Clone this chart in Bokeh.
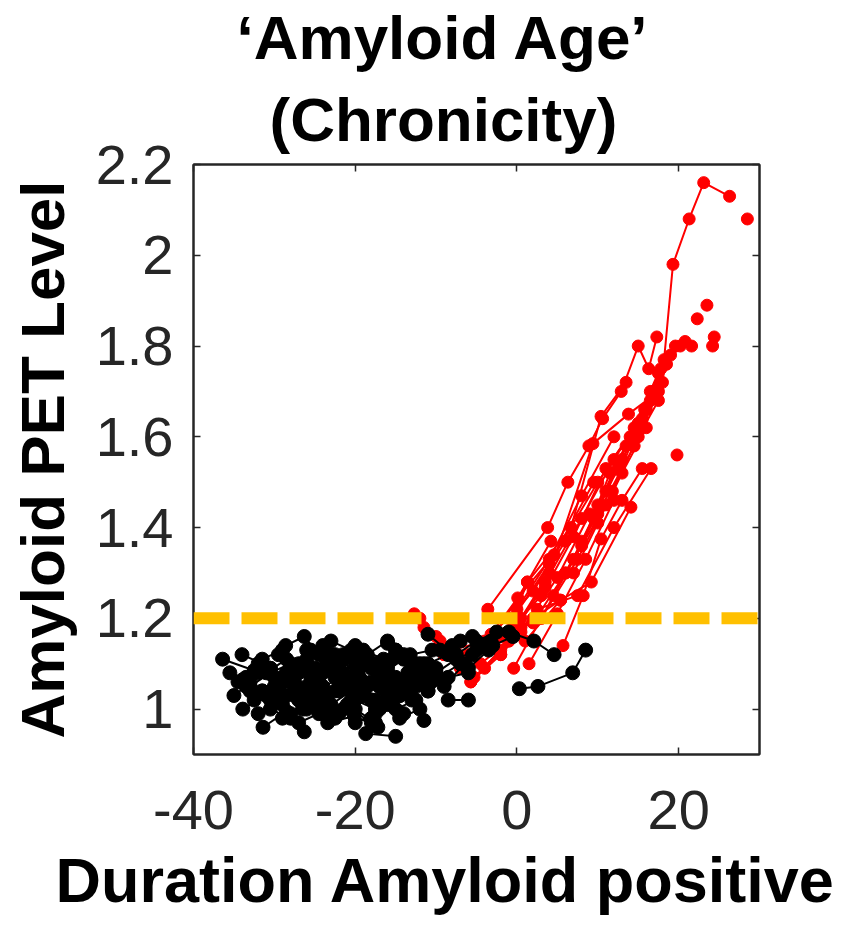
from bokeh.plotting import figure
from bokeh.models import Range1d, LinearAxis, Span, FixedTicker, Title
from bokeh.embed import file_html
from bokeh.resources import INLINE

# ---------------- data ----------------
title_lines = ["\u2018Amyloid Age\u2019", "(Chronicity)"]
x_label = "Duration Amyloid positive"
y_label = "Amyloid PET Level"

x_ticks = [-40, -20, 0, 20]
x_tick_labels = ["-40", "-20", "0", "20"]
y_ticks = [1.0, 1.2, 1.4, 1.6, 1.8, 2.0, 2.2]
y_tick_labels = ["1", "1.2", "1.4", "1.6", "1.8", "2", "2.2"]
threshold = 1.2

# amyloid-positive trajectories (red)
red_x = [
    [-2.0, 4.0, 10.0, 14.5, 18.2, 19.3, 21.3, 23.1, 26.3],
    [-3.6, 3.8, 6.3, 8.9, 10.6, 12.9, 15.0, 16.3, 17.3],
    [-0.4, 3.0, 7.5, 11.8, 15.8, 17.8, 19.6, 20.8, 21.6],
    [5.7, 8.2, 10.4, 13.0, 15.5],
    [-5.7, -1.0, 3.5, 8.0, 12.0, 16.0],
    [-12.7, -9.0, -5.7, -2.0, 2.0, 5.4],
    [-11.5, -8.0, -4.5, -1.0],
    [-9.0, -5.3, -2.0, 1.3, 4.2],
    [-3.2, 0.1, 4.6, 9.5],
    [1.0, 5.4, 9.2, 14.1],
    [-6.5, -2.5, 1.3, 6.7, 10.4, 13.5],
    [-2.0, 2.5, 7.5, 12.0, 16.6],
    [0.5, 4.0, 9.4, 13.8, 17.5],
    [2.0, 6.0, 10.0, 14.5, 18.0],
    [3.0, 7.0, 11.0, 15.0, 17.5],
    [-8.0, -4.0, 0.0, 4.0, 8.0, 12.0],
    [-1.0, 3.0, 7.0, 11.0, 15.0],
    [4.5, 8.0, 11.5, 15.5],
    [-5.0, -1.0, 2.0, 6.0],
    [6.0, 9.5, 13.0, 16.5, 18.5],
    [-10.0, -6.0, -3.0, 0.5],
    [8.0, 11.0, 14.0, 17.0],
    [16.8, 18.4, 20.2],
    [24.2, 24.4],
    [-7.0, -3.5, 0.0, 3.5],
    [-4.0, 0.5, 5.0, 9.0],
    [1.5, 5.0, 8.5, 12.0],
    [7.0, 10.0, 13.0, 16.0],
    [10.0, 13.5, 16.5, 19.0],
    [-12.0, -9.5, -7.0],
    [12.5, 15.0, 17.5],
]
red_y = [
    [1.16, 1.32, 1.50, 1.62, 1.77, 1.98, 2.08, 2.16, 2.13],
    [1.22, 1.40, 1.50, 1.58, 1.64, 1.70, 1.80, 1.75, 1.82],
    [1.09, 1.20, 1.33, 1.48, 1.66, 1.75, 1.80, 1.81, 1.80],
    [1.14, 1.25, 1.375, 1.46, 1.53],
    [1.06, 1.15, 1.28, 1.42, 1.55, 1.66],
    [1.21, 1.12, 1.06, 1.12, 1.20, 1.24],
    [1.18, 1.13, 1.10, 1.15],
    [1.12, 1.07, 1.13, 1.28, 1.37],
    [1.165, 1.245, 1.34, 1.50],
    [1.15, 1.24, 1.28, 1.445],
    [1.10, 1.17, 1.28, 1.40, 1.645, 1.72],
    [1.12, 1.22, 1.25, 1.40, 1.53],
    [1.20, 1.30, 1.585, 1.65, 1.70],
    [1.19, 1.30, 1.43, 1.58, 1.72],
    [1.20, 1.33, 1.45, 1.60, 1.68],
    [1.13, 1.15, 1.22, 1.33, 1.47, 1.60],
    [1.17, 1.25, 1.38, 1.53, 1.63],
    [1.25, 1.36, 1.52, 1.64],
    [1.14, 1.20, 1.26, 1.37],
    [1.30, 1.42, 1.55, 1.68, 1.76],
    [1.16, 1.12, 1.14, 1.18],
    [1.37, 1.48, 1.60, 1.70],
    [1.70, 1.76, 1.80],
    [1.80, 1.82],
    [1.10, 1.13, 1.19, 1.27],
    [1.09, 1.17, 1.29, 1.43],
    [1.10, 1.21, 1.33, 1.46],
    [1.30, 1.41, 1.52, 1.62],
    [1.45, 1.58, 1.70, 1.78],
    [1.20, 1.15, 1.09],
    [1.53, 1.62, 1.74],
]
red_single_x = [28.5, 23.5, 22.3, 19.8]
red_single_y = [2.08, 1.89, 1.86, 1.56]

# amyloid-negative trajectories (black)
black_x = [
    [-36.4, -32.5], [-33.9, -31.0], [-31.4, -28.5], [-28.6, -26.3, -24.5],
    [-26.3], [-18.7, -15.0], [-13.0, -11.5], [-8.5, -6.0],
    [-16.0, -13.2, -10.5], [-11.0, -8.0], [-34.5, -32.0, -29.5], [-33.0, -30.5],
    [-32.0, -29.0, -26.0], [-30.0, -27.5, -25.0], [-29.5, -27.0], [-28.0, -25.5, -23.0],
    [-27.0, -24.0, -21.5], [-26.0, -23.5], [-25.5, -23.0, -20.5], [-24.5, -22.0, -19.5],
    [-23.5, -21.0], [-23.0, -20.0, -17.5], [-22.0, -19.5, -17.0], [-21.5, -19.0],
    [-20.5, -18.0, -15.5], [-20.0, -17.5], [-19.0, -16.5, -14.0], [-18.0, -15.5, -13.0],
    [-17.0, -14.5], [-16.0, -13.5, -11.0], [-15.0, -12.5], [-14.0, -11.5, -9.0],
    [-35.0, -33.5], [-31.0, -28.5, -26.5], [-29.0, -26.5], [-27.5, -25.0, -22.5],
    [-26.5, -24.0], [-25.0, -22.5, -20.0], [-24.0, -21.5, -19.0], [-22.5, -20.0],
    [-21.0, -18.5, -16.0], [-19.5, -17.0, -14.5], [-18.5, -16.0], [-17.5, -15.0, -12.5],
    [-33.5, -31.5, -29.0], [-30.5, -28.0], [-28.5, -26.0, -23.5], [-26.5, -24.0, -21.5],
    [-24.0, -21.5], [-22.0, -19.5, -17.0], [-20.5, -18.0], [-19.0, -16.5, -14.0],
    [-12.0, -9.5, -7.0], [-10.0, -7.5, -5.0], [-9.0, -6.5, -4.0], [-7.5, -5.0, -2.5],
    [-6.0, -3.5], [-14.5, -12.0], [-27.0, -24.5], [0.3, 2.6, 6.9, 8.5],
    [-1.0, 2.1, 4.6], [-10.6, -7.0, -3.2], [-33.9, -31.5], [-23.4, -20.1, -17.2],
    [-35.5, -33.0, -30.5], [-34.0, -31.5], [-32.5, -30.0, -27.5], [-31.5, -29.0],
    [-30.0, -27.5, -25.0], [-29.0, -26.5, -24.0], [-28.0, -25.5], [-27.0, -24.5, -22.0],
    [-26.0, -23.5, -21.0], [-25.0, -22.5], [-24.0, -21.5, -19.0], [-23.0, -20.5, -18.0],
    [-22.0, -19.5], [-21.0, -18.5, -16.0], [-20.0, -17.5, -15.0], [-19.0, -16.5],
    [-18.0, -15.5, -13.0], [-17.0, -14.5, -12.0], [-16.0, -13.5], [-15.0, -12.5, -10.0],
    [-32.0, -29.5], [-30.5, -28.0, -25.5], [-28.5, -26.0], [-25.5, -23.0, -20.5],
    [-22.5, -20.0, -17.5], [-20.0, -17.5, -15.0], [-18.0, -15.5], [-33.0, -30.5, -28.0],
    [-29.5, -27.0, -24.5], [-24.5, -22.0, -19.5], [-21.5, -19.0, -16.5], [-16.5, -14.0, -11.5],
    [-13.5, -11.0, -8.5], [-11.0, -8.5, -6.0], [-5.5, -3.0, -0.5], [-8.0, -5.5],
]
black_y = [
    [1.11, 1.085], [1.00, 1.03], [0.96, 0.995], [1.14, 1.16, 1.12],
    [0.95], [0.946, 0.94], [1.02, 0.975], [1.02, 1.02],
    [1.145, 1.12, 1.13], [1.165, 1.12], [1.06, 1.08, 1.05], [1.04, 1.02],
    [1.10, 1.07, 1.09], [1.03, 1.06, 1.04], [1.12, 1.10], [0.99, 1.02, 1.00],
    [1.08, 1.05, 1.07], [1.13, 1.11], [1.01, 0.98, 1.02], [1.06, 1.09, 1.07],
    [1.03, 1.05], [1.12, 1.14, 1.10], [0.99, 1.03, 1.01], [1.08, 1.06],
    [1.04, 1.02, 1.05], [0.97, 0.99], [1.10, 1.08, 1.11], [1.06, 1.04, 1.07],
    [1.00, 1.03], [1.09, 1.06, 1.04], [1.13, 1.10], [1.05, 1.08, 1.06],
    [1.03, 1.05], [1.08, 1.11, 1.09], [1.01, 1.04], [1.05, 1.07, 1.10],
    [1.00, 1.03], [1.09, 1.12, 1.08], [1.02, 1.00, 1.04], [1.07, 1.10],
    [1.01, 1.05, 1.03], [1.06, 1.08, 1.05], [1.12, 1.15], [1.02, 1.00, 1.02],
    [1.07, 1.04, 1.06], [1.09, 1.06], [1.03, 1.00, 1.02], [1.10, 1.08, 1.11],
    [1.14, 1.12], [1.04, 1.07, 1.05], [1.00, 0.97], [1.03, 1.01, 0.99],
    [1.10, 1.13, 1.15], [1.08, 1.11, 1.13], [1.05, 1.10, 1.14], [1.12, 1.15, 1.17],
    [1.09, 1.13], [0.98, 1.00], [0.97, 0.99], [1.045, 1.05, 1.08, 1.13],
    [1.17, 1.15, 1.12], [1.06, 1.10, 1.15], [1.065, 1.04], [0.97, 0.985, 0.96],
    [1.08, 1.06, 1.09], [1.12, 1.10], [1.02, 1.05, 1.03], [1.11, 1.13],
    [1.07, 1.09, 1.06], [0.98, 1.01, 0.99], [1.10, 1.07], [1.04, 1.02, 1.05],
    [1.11, 1.09, 1.12], [1.06, 1.04], [1.09, 1.07, 1.10], [1.01, 1.04, 1.02],
    [1.11, 1.09], [1.07, 1.10, 1.08], [1.02, 1.00, 1.03], [1.13, 1.11],
    [1.09, 1.11, 1.09], [1.05, 1.03, 1.06], [1.01, 1.04], [1.07, 1.05, 1.09],
    [0.99, 1.02], [1.00, 0.98, 1.01], [1.08, 1.05], [1.13, 1.15, 1.13],
    [0.98, 1.00, 0.97], [1.12, 1.10, 1.13], [0.98, 1.01], [1.05, 1.08, 1.10],
    [1.04, 1.02, 1.06], [1.03, 1.06, 1.04], [1.05, 1.03, 1.06], [1.10, 1.12, 1.10],
    [1.08, 1.10, 1.12], [1.04, 1.07, 1.08], [1.12, 1.14, 1.16], [1.14, 1.16],
]

# ---------------- figure ----------------
AX = "#262626"
FONT = "Liberation Sans"
p = figure(width=851, height=931, output_backend="svg", toolbar_location=None,
           x_range=Range1d(-40, 30), y_range=Range1d(0.9, 2.2),
           min_border_left=193, min_border_right=92,
           min_border_top=164, min_border_bottom=177)
p.background_fill_color = "white"
p.border_fill_color = "white"
p.xgrid.visible = False
p.ygrid.visible = False
p.outline_line_color = AX
p.outline_line_width = 2

def style_axis(ax, show_labels):
    ax.axis_line_color = AX
    ax.axis_line_width = 2
    ax.major_tick_in = 7
    ax.major_tick_out = 0
    ax.major_tick_line_color = AX
    ax.major_tick_line_width = 1.5
    ax.minor_tick_line_color = None
    if show_labels:
        ax.major_label_text_font = FONT
        ax.major_label_text_font_size = "56px"
        ax.major_label_text_color = AX
    else:
        ax.major_label_text_font_size = "0px"
        ax.major_label_text_color = None
        ax.major_label_standoff = 0

p.xaxis.ticker = FixedTicker(ticks=x_ticks)
p.xaxis.major_label_overrides = dict(zip(x_ticks, x_tick_labels))
p.yaxis.ticker = FixedTicker(ticks=y_ticks)
p.yaxis.major_label_overrides = dict(zip(y_ticks, y_tick_labels))
style_axis(p.xaxis[0], True)
style_axis(p.yaxis[0], True)
p.xaxis.major_label_standoff = 36
p.yaxis.major_label_standoff = 20

p.yaxis.axis_label = y_label
p.yaxis.axis_label_text_font = FONT
p.yaxis.axis_label_text_font_style = "bold"
p.yaxis.axis_label_text_font_size = "62px"
p.yaxis.axis_label_text_color = "black"
p.yaxis.axis_label_standoff = 16

top_axis = LinearAxis(ticker=FixedTicker(ticks=x_ticks))
right_axis = LinearAxis(ticker=FixedTicker(ticks=y_ticks))
style_axis(top_axis, False)
style_axis(right_axis, False)
p.add_layout(top_axis, "above")
p.add_layout(right_axis, "right")

# titles (first added sits nearest the plot)
p.add_layout(Title(text=title_lines[1], align="left", offset=76, standoff=22,
                   text_font=FONT, text_font_style="bold", text_font_size="62px",
                   text_color="black"), "above")
p.add_layout(Title(text=title_lines[0], align="left", offset=43, standoff=0,
                   text_font=FONT, text_font_style="bold", text_font_size="62px",
                   text_color="black"), "above")
# x-axis label as a below-title so it can be shifted like the reference
p.add_layout(Title(text=x_label, align="left", offset=-138, standoff=22,
                   text_font=FONT, text_font_style="bold", text_font_size="63px",
                   text_color="black"), "below")

# red trajectories
p.multi_line(xs=red_x, ys=red_y, line_color="#FF0000", line_width=2)
red_px = [v for row in red_x for v in row] + red_single_x
red_py = [v for row in red_y for v in row] + red_single_y
p.scatter(red_px, red_py, size=12, color="#FF0000", line_color="#FF0000")

# black trajectories
p.multi_line(xs=black_x, ys=black_y, line_color="black", line_width=2)
black_px = [v for row in black_x for v in row]
black_py = [v for row in black_y for v in row]
p.scatter(black_px, black_py, size=14, color="black", line_color="black")

# threshold
p.add_layout(Span(location=threshold, dimension="width", line_color="#FFC000",
                  line_width=12, line_dash="36 12"))

open("out.html", "w").write(file_html(p, INLINE))
